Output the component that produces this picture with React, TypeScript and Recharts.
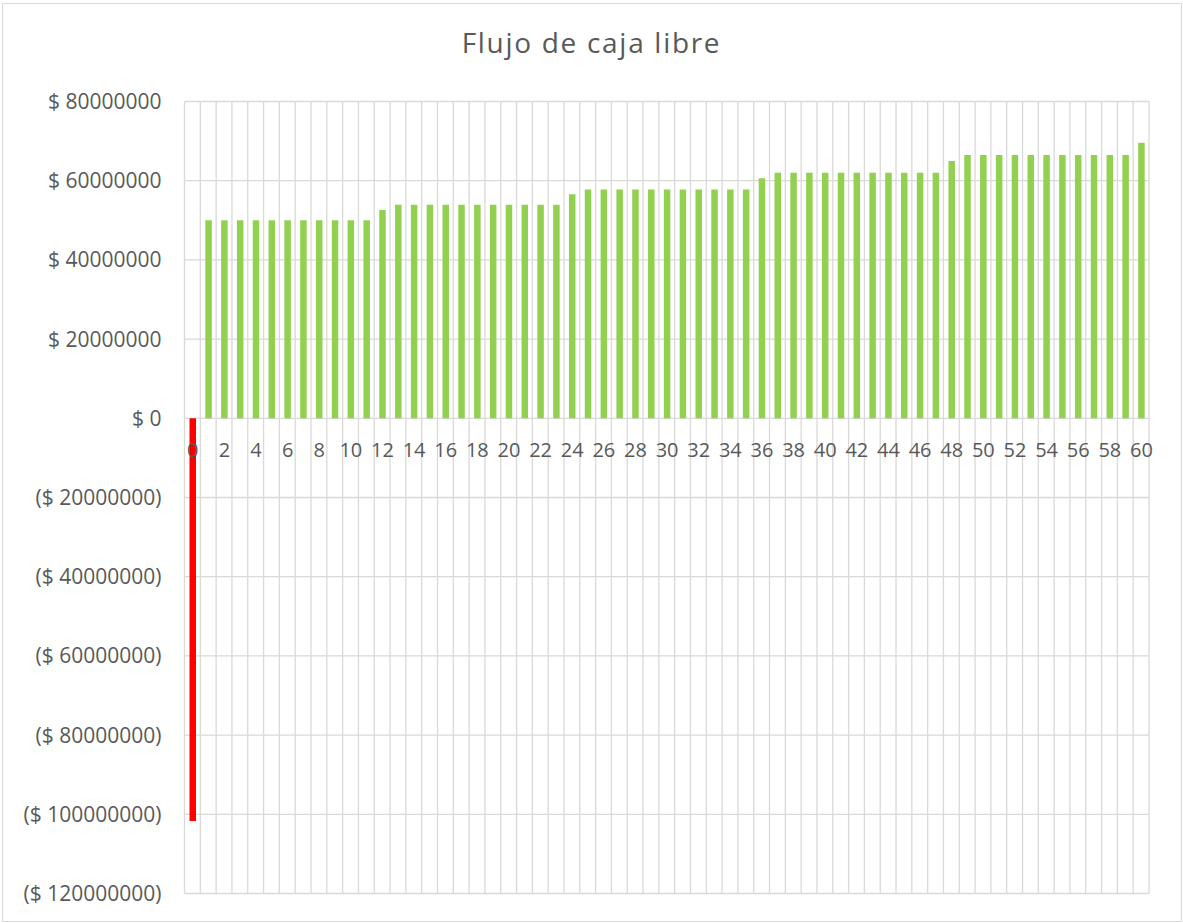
import { Bar, BarChart, CartesianGrid, Cell, LabelList, XAxis, YAxis } from 'recharts'

const periodos = [
  '0', '1', '2', '3', '4', '5', '6', '7', '8', '9', '10',
  '11', '12', '13', '14', '15', '16', '17', '18', '19', '20',
  '21', '22', '23', '24', '25', '26', '27', '28', '29', '30',
  '31', '32', '33', '34', '35', '36', '37', '38', '39', '40',
  '41', '42', '43', '44', '45', '46', '47', '48', '49', '50',
  '51', '52', '53', '54', '55', '56', '57', '58', '59', '60',
]

const flujo = [
  -101700000,
  50000000, 50000000, 50000000, 50000000, 50000000,
  50000000, 50000000, 50000000, 50000000, 50000000,
  50000000, 52600000, 53900000, 53900000, 53900000,
  53900000, 53900000, 53900000, 53900000, 53900000,
  53900000, 53900000, 53900000, 56600000, 57800000,
  57800000, 57800000, 57800000, 57800000, 57800000,
  57800000, 57800000, 57800000, 57800000, 57800000,
  60600000, 62000000, 62000000, 62000000, 62000000,
  62000000, 62000000, 62000000, 62000000, 62000000,
  62000000, 62000000, 65000000, 66500000, 66500000,
  66500000, 66500000, 66500000, 66500000, 66500000,
  66500000, 66500000, 66500000, 66500000, 69600000,
]

const yTicks = [80000000, 60000000, 40000000, 20000000, 0, -20000000, -40000000, -60000000, -80000000, -100000000, -120000000]

const data = periodos.map((p, i) => ({ periodo: p, flujo: flujo[i] }))

const textColor = '#595959'
const gridColor = '#d9d9d9'

const formatY = (v: number) => (v >= 0 ? `$ ${v}` : `($ ${-v})`)

// vertical lines on the category boundaries, not on the centres
const bandLines = ({ xAxis, offset }: any) => {
  const s = xAxis?.scale
  if (typeof s === 'function' && typeof s.bandwidth === 'function') {
    const pts = periodos.map((p) => s(p))
    pts.push(s(periodos[periodos.length - 1]) + s.bandwidth())
    return pts
  }
  if (!offset) return []
  const n = periodos.length
  const pts: number[] = []
  for (let i = 0; i <= n; i++) pts.push(offset.left + (offset.width * i) / n)
  return pts
}

// category labels sit just under the zero line, every second period
const PeriodLabel = (props: any) => {
  const { index } = props
  const vb = props.viewBox ?? props
  const x = vb.x ?? props.x
  const y = vb.y ?? props.y
  const w = vb.width ?? props.width
  const h = vb.height ?? props.height
  if (index == null || index % 2 !== 0) return null
  const top = Math.min(y, y + h)
  const bottom = Math.max(y, y + h)
  const zero = flujo[index] >= 0 ? bottom : top
  return (
    <text x={x + w / 2} y={zero + 39} textAnchor={'middle'} fill={textColor} fontSize={20} fontFamily={'Open Sans'}>
      {periodos[index]}
    </text>
  )
}

export default function App() {
  return (
    <div style={{ position: 'absolute', left: 0, top: 0, width: 1183, height: 923, background: '#fff' }}>
      <div
        style={{
          position: 'absolute',
          left: 2,
          top: 3,
          width: 1178,
          height: 917,
          border: `1px solid ${gridColor}`,
        }}
      />
      <div
        style={{
          position: 'absolute',
          left: 0,
          top: 22,
          width: 1183,
          textAlign: 'center',
          fontFamily: 'Open Sans',
          fontSize: 28,
          letterSpacing: '1.7px',
          lineHeight: '40px',
          color: textColor,
        }}
      >
        Flujo de caja libre
      </div>
      <div style={{ position: 'absolute', left: 0, top: 0 }}>
        <BarChart
          width={1183}
          height={923}
          data={data}
          margin={{ top: 101.5, right: 34, bottom: 29.5, left: 24.5 }}
          barSize={6.5}
          barGap={-6.5}
        >
          <CartesianGrid stroke={gridColor} strokeWidth={1.3} verticalCoordinatesGenerator={bandLines} />
          <XAxis dataKey={'periodo'} hide />
          <YAxis
            width={160}
            domain={[-120000000, 80000000]}
            ticks={yTicks}
            tickFormatter={formatY}
            axisLine={false}
            tickLine={false}
            tickMargin={17}
            tick={{ fill: textColor, fontSize: 21, fontFamily: 'Open Sans' }}
            interval={0}
          />
          <Bar dataKey={'flujo'} fill={'transparent'} isAnimationActive={false}>
            <LabelList dataKey={'periodo'} content={PeriodLabel} />
          </Bar>
          <Bar dataKey={'flujo'} isAnimationActive={false}>
            {data.map((d) => (
              <Cell key={d.periodo} fill={d.flujo < 0 ? '#ff0000' : '#92d050'} />
            ))}
          </Bar>
        </BarChart>
      </div>
    </div>
  )
}
